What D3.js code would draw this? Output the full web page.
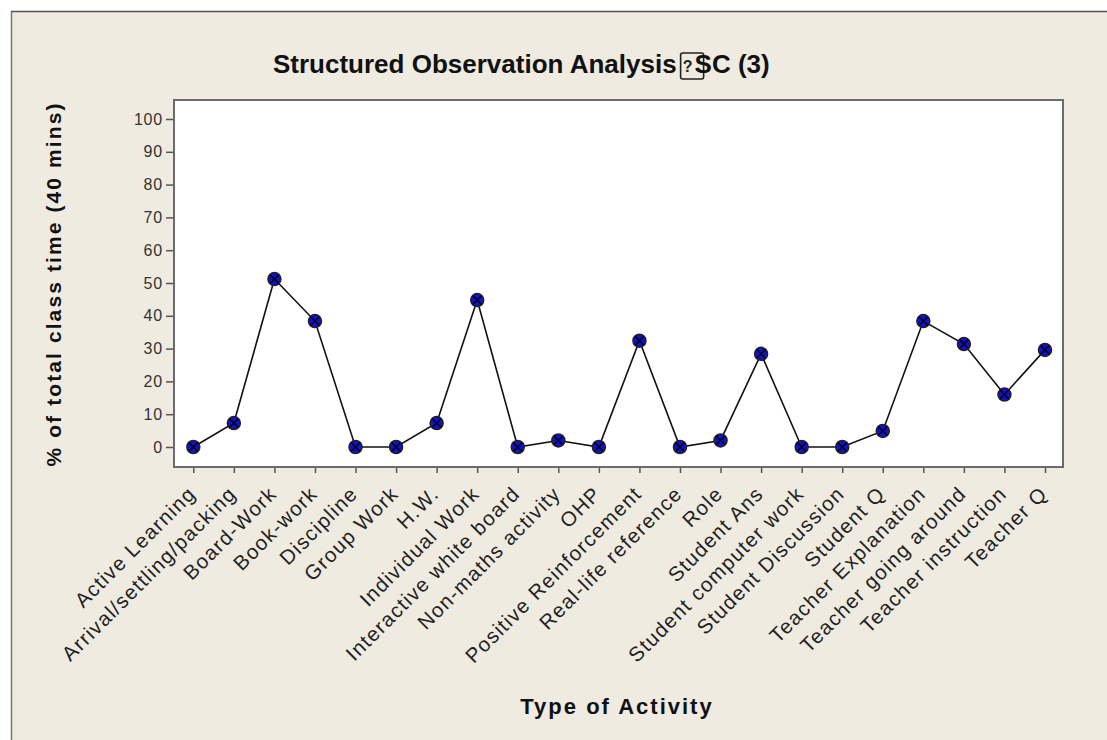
<!DOCTYPE html>
<html>
<head>
<meta charset="utf-8">
<script src="https://cdn.jsdelivr.net/npm/d3@7"></script>
<style>
  html, body { margin: 0; padding: 0; background: #fff; }
  svg { display: block; }
  text { font-family: "Liberation Sans", Arial, sans-serif; }
</style>
</head>
<body>
<svg id="chart" width="1107" height="740"></svg>
<script>
const categories = [
  "Active Learning", "Arrival/settling/packing", "Board-Work", "Book-work",
  "Discipline", "Group Work", "H.W.", "Individual Work",
  "Interactive white board", "Non-maths activity", "OHP", "Positive Reinforcement",
  "Real-life reference", "Role", "Student Ans", "Student computer work",
  "Student Discussion", "Student Q", "Teacher Explanation", "Teacher going around",
  "Teacher instruction", "Teacher Q"
];
const values = [
  0, 7.3, 51.2, 38.4,
  0, 0, 7.3, 44.8,
  0, 2, 0, 32.4,
  0, 2, 28.4, 0,
  0, 4.9, 38.4, 31.4,
  16, 29.6
];
const yTicks = [0, 10, 20, 30, 40, 50, 60, 70, 80, 90, 100];
const titleText = "Structured Observation Analysis";
const titleTail = "SC (3)";
const xTitle = "Type of Activity";
const yTitle = "% of total class time (40 mins)";

const svg = d3.select("#chart");
const W = 1107, H = 740;

// background
svg.append("rect").attr("x", 12).attr("y", 12).attr("width", W - 12).attr("height", H - 12)
  .attr("fill", "#efebe1");
svg.append("line").attr("x1", 11.5).attr("y1", 11).attr("x2", 11.5).attr("y2", H)
  .attr("stroke", "#777").attr("stroke-width", 1.5);
svg.append("line").attr("x1", 11).attr("y1", 11.5).attr("x2", W).attr("y2", 11.5)
  .attr("stroke", "#555").attr("stroke-width", 1.5);

const plot = { left: 174, right: 1063, top: 100, bottom: 467 };

const x = d3.scalePoint().domain(categories).range([193.3, 1045]);
const y = d3.scaleLinear().domain([0, 100]).range([447, 119]);

// plot area
svg.append("rect").attr("x", plot.left).attr("y", plot.top)
  .attr("width", plot.right - plot.left).attr("height", plot.bottom - plot.top)
  .attr("fill", "#fff").attr("stroke", "#6b6b6b").attr("stroke-width", 2);

// y axis
const yAxis = d3.axisLeft(y).tickValues(yTicks).tickSize(7).tickPadding(3);
const gy = svg.append("g").attr("transform", `translate(${plot.left - 1},0)`).call(yAxis);
gy.select(".domain").remove();
gy.selectAll(".tick line").attr("stroke", "#555").attr("stroke-width", 1.5);
gy.selectAll(".tick text").attr("font-size", 16).attr("fill", "#333")
  .attr("letter-spacing", 0.8)
  .attr("font-family", "Liberation Sans, Arial, sans-serif");

// x axis
const xAxis = d3.axisBottom(x).tickSize(5).tickPadding(3);
const gx = svg.append("g").attr("transform", `translate(0,${plot.bottom + 1})`).call(xAxis);
gx.select(".domain").remove();
gx.selectAll(".tick line").attr("stroke", "#555").attr("stroke-width", 1.5);
gx.selectAll(".tick text")
  .attr("font-size", 20.5).attr("fill", "#222")
  .attr("letter-spacing", 1.3)
  .attr("font-family", "Liberation Sans, Arial, sans-serif")
  .attr("text-anchor", "end")
  .attr("y", null)
  .attr("transform", "translate(-2,22) rotate(-45)")
  .attr("dy", "0.35em");

// line
const line = d3.line().x((d, i) => x(categories[i])).y(d => y(d));
svg.append("path").datum(values).attr("d", line)
  .attr("fill", "none").attr("stroke", "#111").attr("stroke-width", 1.6);

// markers
const r = 6.5;
const mk = svg.append("g").selectAll("g").data(values).join("g")
  .attr("transform", (d, i) => `translate(${x(categories[i])},${y(d)})`);
mk.append("circle").attr("r", r).attr("fill", "#1010d0").attr("stroke", "#222").attr("stroke-width", 1.5);
mk.append("path").attr("d", `M${-r*0.68},${-r*0.68}L${r*0.68},${r*0.68}M${-r*0.68},${r*0.68}L${r*0.68},${-r*0.68}`)
  .attr("stroke", "#000").attr("stroke-width", 1.4);

// title
const t = svg.append("text").attr("x", 273).attr("y", 73)
  .attr("font-size", 26).attr("font-weight", "bold").attr("fill", "#111")
  .text(titleText);
const tb = t.node().getBBox();
const boxX = tb.x + tb.width + 4;
svg.append("rect").attr("x", boxX).attr("y", 53).attr("width", 23).attr("height", 26)
  .attr("fill", "none").attr("stroke", "#222").attr("stroke-width", 1.6).attr("rx", 2);
svg.append("text").attr("x", boxX + 7).attr("y", 72).attr("font-size", 16)
  .attr("font-weight", "bold").attr("fill", "#222").attr("text-anchor", "middle").text("?");
svg.append("text").attr("x", boxX + 14).attr("y", 73)
  .attr("font-size", 26).attr("font-weight", "bold").attr("fill", "#111")
  .text(titleTail);

// axis titles
svg.append("text").attr("x", 617).attr("y", 714).attr("text-anchor", "middle")
  .attr("font-size", 22).attr("font-weight", "bold").attr("fill", "#111")
  .attr("letter-spacing", 2).text(xTitle);
svg.append("text").attr("transform", "translate(61,284) rotate(-90)")
  .attr("text-anchor", "middle")
  .attr("font-size", 21).attr("font-weight", "bold").attr("fill", "#111")
  .attr("letter-spacing", 2.1).text(yTitle);
</script>
</body>
</html>
